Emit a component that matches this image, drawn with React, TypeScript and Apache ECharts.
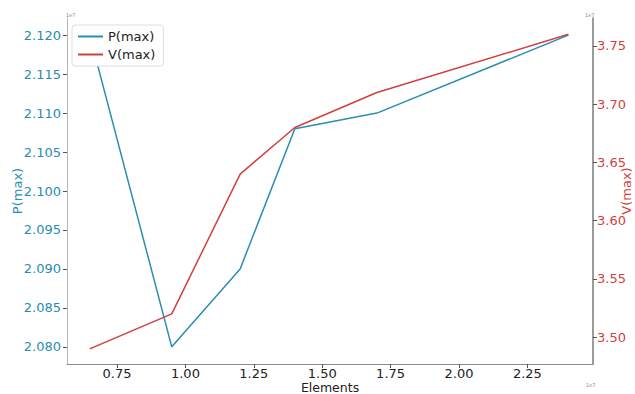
import React, { useEffect, useRef } from "react";
import * as echarts from "echarts";

// values in units of 1e7 (as shown by the axis offset text)
const elements = [0.65, 0.95, 1.2, 1.4, 1.7, 2.4];
const pMax = [2.12, 2.08, 2.09, 2.108, 2.11, 2.12];
const vMax = [3.49, 3.52, 3.64, 3.68, 3.71, 3.76];
const xTicks = [0.75, 1.0, 1.25, 1.5, 1.75, 2.0, 2.25];
const pTicks = [2.08, 2.085, 2.09, 2.095, 2.1, 2.105, 2.11, 2.115, 2.12];
const vTicks = [3.5, 3.55, 3.6, 3.65, 3.7, 3.75];

const BLUE = "#2a8db2";
const RED = "#d13f3f";
const FONT = "DejaVu Sans";

export default function App() {
  const ref = useRef<HTMLDivElement>(null);
  useEffect(() => {
    const chart = echarts.init(ref.current!, null, { renderer: "svg" });
    chart.setOption({
      animation: false,
      backgroundColor: "#ffffff",
      textStyle: { fontFamily: FONT },
      grid: { left: 67, top: 18, right: 42, bottom: 30, containLabel: false, outerBoundsMode: "none" },
      legend: {
        orient: "vertical",
        left: 72,
        top: 25,
        itemWidth: 25,
        itemHeight: 2,
        itemGap: 5,
        icon: "rect",
        padding: [5, 8, 5, 6],
        backgroundColor: "#ffffff",
        borderColor: "#dddddd",
        borderWidth: 1,
        borderRadius: 3,
        textStyle: { fontFamily: FONT, fontSize: 13, color: "#222" },
        data: ["P(max)", "V(max)"],
      },
      xAxis: {
        type: "value",
        min: 0.567,
        max: 2.49,
        name: "Elements",
        nameLocation: "middle",
        nameGap: 17,
        nameMoveOverlap: false,
        nameTextStyle: { fontFamily: FONT, fontSize: 12.5, lineHeight: 12, color: "#222" },
        axisLine: { show: true, lineStyle: { color: "#8a8a8a", width: 1.2 } },
        axisTick: { show: true, length: 4, customValues: xTicks, lineStyle: { color: "#555" } },
        axisLabel: {
          customValues: xTicks,
          formatter: (v: number) => v.toFixed(2),
          fontFamily: FONT,
          fontSize: 13,
          lineHeight: 13,
          color: "#222",
          margin: 3,
        },
        splitLine: { show: false },
      },
      yAxis: [
        {
          type: "value",
          min: 2.0778,
          max: 2.1222,
          position: "left",
          name: "P(max)",
          nameLocation: "middle",
          nameRotate: 90,
          nameGap: 43,
          nameMoveOverlap: false,
          nameTextStyle: { fontFamily: FONT, fontSize: 13, color: BLUE },
          axisLine: { show: true, lineStyle: { color: "#b5b5b5", width: 1 } },
          axisTick: { show: true, length: 4, customValues: pTicks, lineStyle: { color: "#555" } },
          axisLabel: {
            customValues: pTicks,
            formatter: (v: number) => v.toFixed(3),
            fontFamily: FONT,
            fontSize: 13,
            color: BLUE,
            margin: 6,
          },
          splitLine: { show: false },
        },
        {
          type: "value",
          min: 3.477,
          max: 3.774,
          position: "right",
          name: "V(max)",
          nameLocation: "middle",
          nameRotate: 90,
          nameGap: 27,
          nameMoveOverlap: false,
          nameTextStyle: { fontFamily: FONT, fontSize: 13, color: RED },
          axisLine: { show: true, lineStyle: { color: "#7a7a7a", width: 1.5 } },
          axisTick: { show: true, length: 4, customValues: vTicks, lineStyle: { color: "#555" } },
          axisLabel: {
            customValues: vTicks,
            formatter: (v: number) => v.toFixed(2),
            fontFamily: FONT,
            fontSize: 13,
            color: RED,
            margin: 4,
          },
          splitLine: { show: false },
        },
      ],
      graphic: [
        { type: "text", left: 66, top: 12, style: { text: "1e7", fontSize: 5, fill: "#888", fontFamily: FONT } },
        { type: "text", left: 585, top: 12, style: { text: "1e7", fontSize: 5, fill: "#888", fontFamily: FONT } },
        { type: "text", left: 586, top: 382, style: { text: "1e7", fontSize: 5, fill: "#888", fontFamily: FONT } },
      ],
      series: [
        {
          name: "P(max)",
          type: "line",
          yAxisIndex: 0,
          showSymbol: false,
          symbol: "none",
          color: BLUE,
          lineStyle: { width: 1.5, color: BLUE },
          data: elements.map((x, i) => [x, pMax[i]]),
        },
        {
          name: "V(max)",
          type: "line",
          yAxisIndex: 1,
          showSymbol: false,
          symbol: "none",
          color: RED,
          lineStyle: { width: 1.5, color: RED },
          data: elements.map((x, i) => [x, vMax[i]]),
        },
      ],
    });
    return () => chart.dispose();
  }, []);
  return (
    <div
      ref={ref}
      style={{ position: "fixed", left: 0, top: 0, width: 635, height: 394 }}
    />
  );
}
